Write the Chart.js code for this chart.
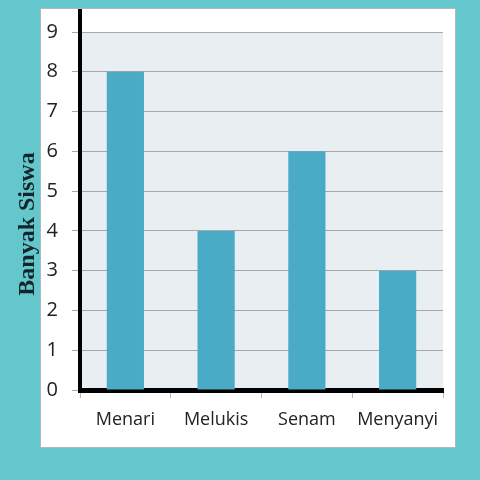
<!DOCTYPE html>
<html>
<head>
<meta charset="utf-8">
<script src="https://cdn.jsdelivr.net/npm/chart.js@4.4.1/dist/chart.umd.min.js"></script>
<style>
    html, body { margin: 0; padding: 0; background: #63c7cc; }
    #wrap { width: 480px; height: 480px; position: relative; }
</style>
</head>
<body>
<div id="wrap"><canvas id="kegiatan-chart"></canvas></div>
<script>
const categories = ['Menari', 'Melukis', 'Senam', 'Menyanyi'];
const siswa = [8, 4, 6, 3];
const yTitle = 'Banyak Siswa';

// white card + grey plot area behind the chart
const panelPlugin = {
    id: 'panel',
    beforeDraw(chart) {
        const ctx = chart.ctx;
        const a = chart.chartArea;
        ctx.save();
        ctx.fillStyle = '#ffffff';
        ctx.fillRect(a.left - 39, 9, a.right - a.left + 51, 438);
        ctx.strokeStyle = '#a9b9bd';
        ctx.lineWidth = 1;
        ctx.strokeRect(a.left - 39.5, 8.5, a.right - a.left + 52, 439);
        ctx.fillStyle = '#e9eef2';
        ctx.fillRect(a.left, a.top, a.right - a.left, a.bottom - a.top);
        ctx.restore();
    },
    afterDraw(chart) {
        const ctx = chart.ctx;
        const a = chart.chartArea;
        const y = chart.scales.y;
        ctx.save();
        // axis line runs up to the top of the card
        ctx.strokeStyle = '#000';
        ctx.lineWidth = 4;
        ctx.beginPath();
        ctx.moveTo(y.right, 9);
        ctx.lineTo(y.right, a.top + 2);
        ctx.stroke();
        // y title sits on the teal border, left of the card
        ctx.translate(a.left - 52, 224);
        ctx.rotate(-Math.PI / 2);
        ctx.fillStyle = '#14262b';
        ctx.font = 'bold 24px "Liberation Serif"';
        ctx.textAlign = 'center';
        ctx.textBaseline = 'middle';
        ctx.fillText(yTitle, 0, 0);
        ctx.restore();
    }
};

const chart = new Chart(document.getElementById('kegiatan-chart'), {
    type: 'bar',
    data: {
        labels: categories,
        datasets: [{
            label: yTitle,
            data: siswa,
            backgroundColor: '#4aabc7',
            categoryPercentage: 1,
            barPercentage: 0.41,
        }]
    },
    options: {
        responsive: true,
        maintainAspectRatio: false,
        animation: false,
        layout: { padding: { top: 32, right: 37, left: 0, bottom: 0 } },
        plugins: {
            legend: { display: false },
            tooltip: { enabled: false }
        },
        scales: {
            x: {
                afterFit(scale) { scale.height = 90; },
                grid: {
                    drawOnChartArea: false,
                    drawTicks: true,
                    tickLength: 8,
                    color: '#b8b8b8'
                },
                border: { display: true, color: '#000', width: 5 },
                ticks: {
                    color: '#222',
                    padding: 11,
                    font: { family: '"Open Sans"', size: 18 }
                }
            },
            y: {
                min: 0,
                max: 9,
                afterFit(scale) { scale.width = 80; },
                grid: {
                    color: '#a8a8a8',
                    lineWidth: 1,
                    tickLength: 8
                },
                border: { display: true, color: '#000', width: 4 },
                ticks: {
                    stepSize: 1,
                    color: '#222',
                    padding: 14,
                    font: { family: '"Open Sans"', size: 20 }
                }
            }
        }
    },
    plugins: [panelPlugin]
});
</script>
</body>
</html>
